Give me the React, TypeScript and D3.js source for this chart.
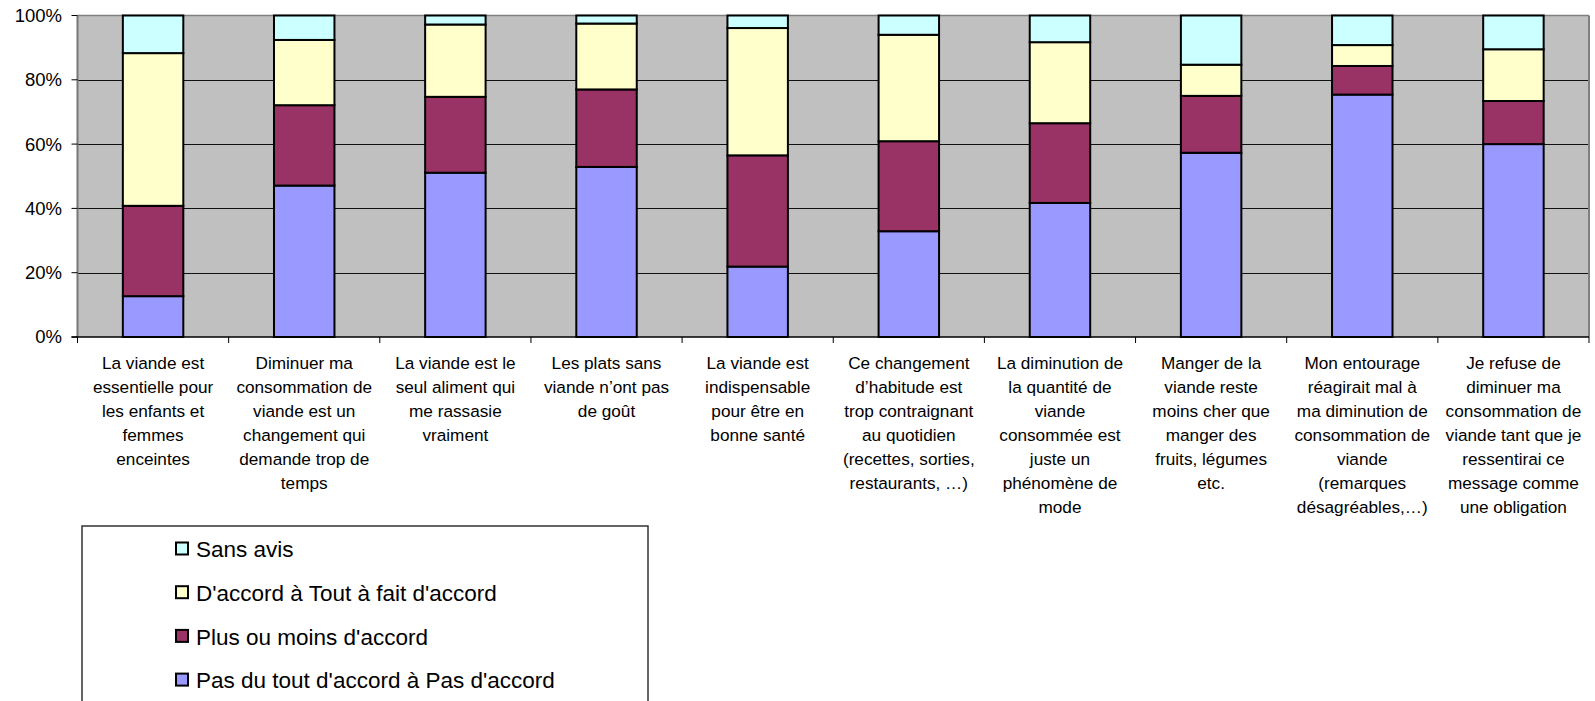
import React from "react";
import * as d3 from "d3";

const categories: string[][] = [
  ["La viande est", "essentielle pour", "les enfants et", "femmes", "enceintes"],
  ["Diminuer ma", "consommation de", "viande est un", "changement qui", "demande trop de", "temps"],
  ["La viande est le", "seul aliment qui", "me rassasie", "vraiment"],
  ["Les plats sans", "viande n’ont pas", "de goût"],
  ["La viande est", "indispensable", "pour être en", "bonne santé"],
  ["Ce changement", "d’habitude est", "trop contraignant", "au quotidien", "(recettes, sorties,", "restaurants, …)"],
  ["La diminution de", "la quantité de", "viande", "consommée est", "juste un", "phénomène de", "mode"],
  ["Manger de la", "viande reste", "moins cher que", "manger des", "fruits, légumes", "etc."],
  ["Mon entourage", "réagirait mal à", "ma diminution de", "consommation de", "viande", "(remarques", "désagréables,…)"],
  ["Je refuse de", "diminuer ma", "consommation de", "viande tant que je", "ressentirai ce", "message comme", "une obligation"],
];

const pasDuTout = [12.7, 47.1, 51.1, 52.9, 21.9, 32.9, 41.7, 57.3, 75.4, 60.0];
const plusOuMoins = [28.1, 25.0, 23.6, 24.1, 34.6, 28.0, 24.8, 17.7, 8.9, 13.4];
const daccord = [47.5, 20.3, 22.5, 20.5, 39.6, 33.1, 25.2, 9.7, 6.5, 16.1];
const sansAvis = [11.7, 7.6, 2.8, 2.5, 3.9, 6.0, 8.3, 15.3, 9.2, 10.5];

const seriesNames = [
  "Pas du tout d'accord à Pas d'accord",
  "Plus ou moins d'accord",
  "D'accord à Tout à fait d'accord",
  "Sans avis",
];
const seriesColors = ["#9999FF", "#993366", "#FFFFCC", "#CCFFFF"];
const yTicks = [0, 0.2, 0.4, 0.6, 0.8, 1];

const W = 1595;
const H = 701;
const plot = { left: 77.5, right: 1589, top: 15.5, bottom: 337 };
const FONT = "'Liberation Sans', Arial, sans-serif";

export default function App() {
  const keys = ["a", "b", "c", "d"];
  const rows = categories.map((_, i) => ({
    idx: i,
    a: pasDuTout[i],
    b: plusOuMoins[i],
    c: daccord[i],
    d: sansAvis[i],
  }));
  const stacked = d3.stack<any>().keys(keys).offset(d3.stackOffsetExpand)(rows);

  const x = d3
    .scaleBand<number>()
    .domain(categories.map((_, i) => i))
    .range([plot.left, plot.right])
    .paddingInner(0.6)
    .paddingOuter(0.3);
  const y = d3.scaleLinear().domain([0, 1]).range([plot.bottom, plot.top]);
  const step = x.step();
  const fmt = d3.format(".0%");

  const legendItems = [3, 2, 1, 0];

  return (
    <div style={{ position: "absolute", left: 0, top: 0 }}>
      <svg width={W} height={H} style={{ display: "block", overflow: "hidden", background: "#fff" }} fontFamily={FONT}>
        <rect x={plot.left} y={plot.top} width={plot.right - plot.left} height={plot.bottom - plot.top} fill="#C0C0C0" />
        {yTicks.slice(1, -1).map((t) => (
          <line key={t} x1={plot.left} x2={plot.right} y1={Math.round(y(t)) + 0.5} y2={Math.round(y(t)) + 0.5} stroke="#111" strokeWidth={1} />
        ))}
        {/* plot border top and right */}
        <line x1={plot.left} x2={plot.right} y1={plot.top} y2={plot.top} stroke="#808080" strokeWidth={1.5} />
        <line x1={plot.right} x2={plot.right} y1={plot.top} y2={plot.bottom} stroke="#808080" strokeWidth={2} />
        {/* bars */}
        {stacked.map((s, si) => (
          <g key={si}>
            {s.map((d, i) => (
              <rect
                key={i}
                x={x(i)!}
                width={x.bandwidth()}
                y={y(d[1])}
                height={y(d[0]) - y(d[1])}
                fill={seriesColors[si]}
                stroke="#000"
                strokeWidth={2}
              />
            ))}
          </g>
        ))}
        {/* y axis */}
        <line x1={plot.left} x2={plot.left} y1={plot.top} y2={plot.bottom} stroke="#777" strokeWidth={2} />
        {yTicks.map((t) => (
          <g key={t}>
            <line x1={plot.left - 6} x2={plot.left} y1={y(t)} y2={y(t)} stroke="#000" strokeWidth={1} />
            <text x={62} y={y(t)} dy="0.35em" textAnchor="end" fontSize={18.5} fill="#000">
              {fmt(t)}
            </text>
          </g>
        ))}
        {/* x axis */}
        <line x1={plot.left - 6} x2={plot.right} y1={plot.bottom} y2={plot.bottom} stroke="#000" strokeWidth={1.5} />
        {d3.range(categories.length + 1).map((i) => (
          <line key={i} x1={plot.left + i * step} x2={plot.left + i * step} y1={plot.bottom} y2={plot.bottom + 6} stroke="#000" strokeWidth={1} />
        ))}
        {categories.map((lines, i) => (
          <text key={i} x={x(i)! + x.bandwidth() / 2} y={369} textAnchor="middle" fontSize={17.2} fill="#000">
            {lines.map((l, j) => (
              <tspan key={j} x={x(i)! + x.bandwidth() / 2} y={369 + j * 24}>
                {l}
              </tspan>
            ))}
          </text>
        ))}
        {/* legend */}
        <rect x={82} y={526} width={566} height={200} fill="#fff" stroke="#333" strokeWidth={1.5} />
        {legendItems.map((si, k) => {
          const cy = 549 + k * 43.7;
          return (
            <g key={si}>
              <rect x={176} y={cy - 6.5} width={12} height={12} fill={seriesColors[si]} stroke="#000" strokeWidth={2} />
              <text x={196} y={cy} dy="0.36em" fontSize={22.5} fill="#000">
                {seriesNames[si]}
              </text>
            </g>
          );
        })}
      </svg>
    </div>
  );
}
